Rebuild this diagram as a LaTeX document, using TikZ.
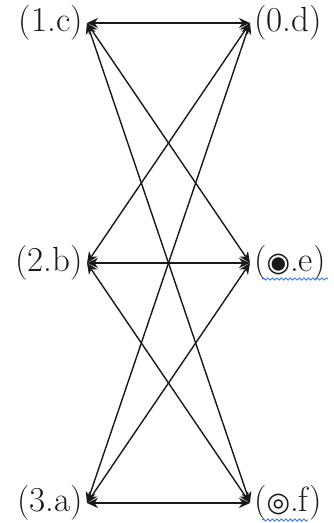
\documentclass[tikz,border=0pt]{standalone}
\usepackage{fontspec}
\newfontfamily\symFamily{DejaVu Sans}
\newcommand{\symGlyph}[1]{{\symFamily\fontsize{27}{30}\selectfont #1}}
\usepackage{xcolor}
\definecolor{edgeDark}{RGB}{25, 25, 25}
\definecolor{spellBlue}{RGB}{55, 120, 225}
\usetikzlibrary{
    arrows.meta,
    positioning,
    decorations.pathmorphing
}

\begin{document}
\begin{tikzpicture}[
    x=1pt, y=-1pt,
    vertexLabel/.style={
        font=\fontsize{35}{38}\selectfont, text=edgeDark,
        inner xsep=4pt, inner ysep=0pt
    },
    edgeArrow/.style={
        {Stealth[length=11pt,width=10pt,inset=3.5pt]}-{Stealth[length=11pt,width=10pt,inset=3.5pt]},
        line width=1.4pt, draw=edgeDark
    },
    spellLine/.style={
        draw=spellBlue, line width=0.9pt, decorate,
        decoration={snake, amplitude=1.1pt, segment length=4.5pt}
    }
]
    \useasboundingbox (0,0) rectangle (333,523);

    % Left column
    \node[vertexLabel, anchor=east] (n1c) at (87,23) {(1.c)};
    \node[vertexLabel, anchor=east] (n2b) at (87,263) {(2.b)};
    \node[vertexLabel, anchor=east] (n3a) at (87,503) {(3.a)};

    % Right column
    \node[vertexLabel, anchor=west] (n0d) at (250,23) {(0.d)};
    \node[vertexLabel, anchor=west] (nEe) at (250,263) {(\symGlyph{◉}.e)};
    \node[vertexLabel, anchor=west] (nFf) at (250,503) {(\symGlyph{◎}.f)};

    % Horizontal arrows
    \draw[edgeArrow] (n1c.east) -- (n0d.west);
    \draw[edgeArrow] (n2b.east) -- (nEe.west);
    \draw[edgeArrow] (n3a.east) -- (nFf.west);

    % Crossing arrows
    \draw[edgeArrow] (n1c.east) -- (nEe.west);
    \draw[edgeArrow] (n1c.east) -- (nFf.west);
    \draw[edgeArrow] (n2b.east) -- (n0d.west);
    \draw[edgeArrow] (n2b.east) -- (nFf.west);
    \draw[edgeArrow] (n3a.east) -- (n0d.west);
    \draw[edgeArrow] (n3a.east) -- (nEe.west);

    % Spell-check squiggles
    \draw[spellLine] (262,279) -- (328,279);
    \draw[spellLine] (262,520) -- (308,520);

\end{tikzpicture}
\end{document}
